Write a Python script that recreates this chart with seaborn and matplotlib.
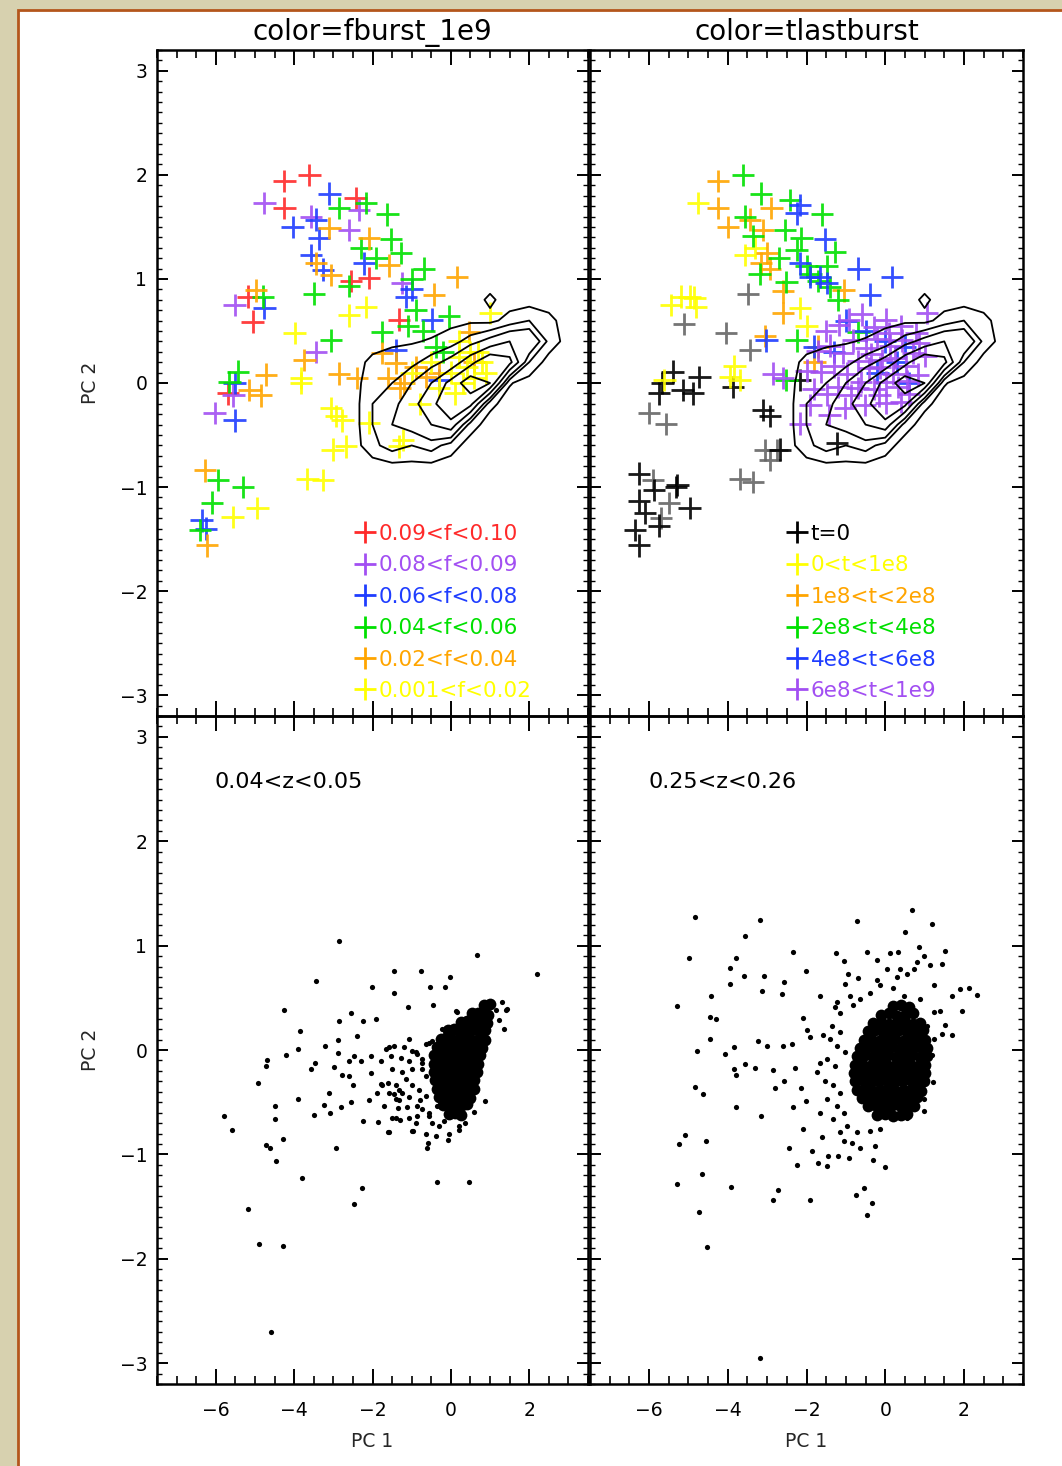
import numpy as np
import pandas as pd
import matplotlib
matplotlib.use("Agg")
import matplotlib.pyplot as plt
from matplotlib.lines import Line2D
from matplotlib.patches import Rectangle
from matplotlib.ticker import MultipleLocator
import seaborn as sns

sns.set_theme(style="white")
plt.rcParams["font.family"] = ["DejaVu Sans"]

W, H = 1062, 1466

# ---------------------------------------------------------------- data
# burst-fraction classes (top left), PC1/PC2 positions
fb_red = [(-4.25, 1.94), (-3.61, 2.00), (-4.25, 1.68), (-2.43, 1.78), (-5.18, 0.83),
          (-5.06, 0.59), (-2.09, 1.01), (-1.32, 0.61), (-5.69, -0.10), (-2.55, 0.98)]
fb_purple = [(-4.76, 1.73), (-3.57, 1.60), (-2.60, 1.47), (-2.34, 1.66), (-5.52, 0.75),
             (-1.24, 0.96), (-3.44, 0.30), (-6.03, -0.29), (-5.55, -0.12)]
fb_blue = [(-3.10, 1.82), (-4.04, 1.50), (-3.44, 1.57), (-3.36, 1.39), (-3.57, 1.23),
           (-3.27, 1.09), (-2.21, 1.15), (-1.15, 0.83), (-4.76, 0.72), (-5.52, 0.00),
           (-5.52, -0.36), (-0.31, 0.03), (-0.48, 0.61), (-1.41, 0.32), (-6.36, -1.32),
           (-6.25, -1.40), (-1.00, 0.90)]
fb_green = [(-2.17, 1.73), (-2.85, 1.68), (-1.62, 1.62), (-1.53, 1.38), (-1.28, 1.25),
            (-0.69, 1.10), (-3.49, 0.86), (-2.60, 0.93), (-4.80, 0.83), (-3.06, 0.41),
            (-0.90, 0.70), (-1.75, 0.49), (-0.05, 0.64), (-0.39, 0.35), (-5.44, 0.11),
            (-5.65, 0.01), (-5.95, -0.93), (-5.31, -1.00), (-6.10, -1.15), (-6.41, -1.41),
            (-1.90, 1.20), (-1.10, 0.55), (-0.70, 0.50), (-2.30, 1.30), (-1.00, 1.00),
            (-0.20, 0.30)]
fb_orange = [(-3.10, 1.49), (-2.09, 1.39), (-3.44, 1.15), (-3.06, 1.04), (-1.58, 1.13),
             (0.16, 1.02), (-0.43, 0.85), (-4.97, 0.89), (0.46, 0.49), (-4.72, 0.08),
             (-4.84, -0.12), (-5.14, -0.07), (-3.74, 0.22), (-2.85, 0.09), (-1.41, 0.19),
             (-1.75, 0.29), (-6.28, -0.84), (-0.64, 0.06), (-6.23, -1.56), (-1.20, 0.00),
             (-1.60, 0.05), (-0.90, 0.15), (-0.30, 0.10), (0.60, 0.20), (-2.40, 0.05),
             (-1.30, -0.05)]
fb_yellow = [(-2.60, 0.65), (-3.99, 0.48), (-3.82, 0.05), (-3.82, 0.00), (-3.06, -0.24),
             (-2.93, -0.32), (-2.77, -0.36), (-3.02, -0.64), (-2.68, -0.61), (-3.66, -0.92),
             (-3.27, -0.93), (-2.17, 0.73), (1.01, 0.67), (-2.09, -0.38), (-1.32, -0.61),
             (-5.57, -1.29), (-4.94, -1.20), (0.00, 0.10), (0.20, 0.25), (0.40, 0.15),
             (0.60, 0.05), (0.80, 0.20), (0.30, 0.00), (0.50, 0.30), (0.10, -0.10),
             (0.70, 0.30), (0.90, 0.10), (-0.30, -0.05), (0.20, 0.40), (-0.50, 0.20),
             (-1.00, 0.10), (-0.80, -0.20), (-1.22, -0.55)]

fb_labels = ["0.09<f<0.10", "0.08<f<0.09", "0.06<f<0.08",
             "0.04<f<0.06", "0.02<f<0.04", "0.001<f<0.02"]
fb_colors = ["#ff2a2a", "#a24ff2", "#1f3dff", "#00e000", "#ffa500", "#ffff00"]

# time-since-last-burst classes (top right)
tb_black = [(-5.40, 0.11), (-5.66, 0.00), (-5.74, -0.10), (-5.15, -0.07), (-4.89, -0.10),
            (-4.72, 0.06), (-3.87, -0.04), (-6.25, -0.87), (-5.31, -1.00), (-3.10, -0.26),
            (-2.93, -0.32), (-2.68, -0.64), (-2.17, 0.03), (-1.23, -0.58), (-6.25, -1.13),
            (-6.35, -1.41), (-6.25, -1.56), (-5.87, -1.03), (-5.28, -0.98), (-4.97, -1.20),
            (-5.74, -1.37), (-6.10, -1.25)]
tb_grey = [(-3.49, 0.86), (-5.10, 0.57), (-4.04, 0.48), (-3.44, 0.32), (-6.00, -0.29),
           (-5.57, -0.39), (-3.70, -0.92), (-3.36, -0.95), (-3.06, -0.64), (-2.93, -0.74),
           (-2.76, -0.64), (-5.91, -0.93), (-5.70, -1.30), (-5.50, -1.15)]
tb_yellow = [(-4.76, 1.73), (-3.57, 1.23), (-2.17, 0.72), (-5.44, 0.75), (-5.19, 0.83),
             (-4.97, 0.83), (-4.85, 0.82), (-4.80, 0.73), (-3.83, 0.16), (-3.95, 0.06),
             (-3.70, 0.03), (-5.61, 0.03), (-2.00, 0.55), (-3.30, 1.30)]
tb_orange = [(-4.25, 1.94), (-4.25, 1.68), (-4.00, 1.50), (-2.89, 1.68), (-3.44, 1.57),
             (-3.10, 1.47), (-3.15, 1.15), (-2.93, 1.10), (-2.59, 0.88), (-2.59, 0.67),
             (-3.06, 0.45), (-1.70, 0.35), (-1.06, 0.89), (-1.80, 0.20), (-3.00, 1.25)]
tb_green = [(-3.61, 2.00), (-3.15, 1.82), (-2.42, 1.76), (-1.61, 1.62), (-3.57, 1.60),
            (-3.36, 1.41), (-2.55, 1.47), (-2.13, 1.39), (-2.25, 1.28), (-1.28, 1.26),
            (-2.00, 1.12), (-1.49, 1.12), (-2.51, 0.97), (-1.90, 1.05), (-1.70, 0.98),
            (-1.40, 0.92), (-3.19, 1.05), (-0.68, 0.49), (-2.25, 0.41), (-2.51, 0.03),
            (-2.70, 1.20), (-1.20, 0.80)]
tb_blue = [(-2.17, 1.71), (-2.25, 1.63), (-1.53, 1.38), (-0.68, 1.10), (0.17, 1.02),
           (-0.38, 0.85), (-2.17, 1.15), (-1.91, 1.02), (-1.66, 1.02), (-1.49, 0.96),
           (-3.02, 0.41), (-1.00, 0.60), (-0.50, 0.50), (0.00, 0.40), (0.30, 0.20),
           (-0.20, 0.10), (0.60, 0.00), (-1.80, 0.35), (-1.30, 0.30), (0.50, 0.35)]
tb_purple = [(1.06, 0.67), (-2.85, 0.09), (-2.60, 0.05), (-2.17, -0.39), (-0.13, 0.15),
             (-1.50, 0.50), (-1.18, 0.56), (-0.92, 0.61), (-0.60, 0.66), (-0.28, 0.54),
             (0.02, 0.61), (0.41, 0.55), (0.79, 0.48), (-1.72, 0.31), (-1.41, 0.36),
             (-1.08, 0.29), (-0.81, 0.41), (-0.49, 0.34), (-0.22, 0.42), (0.12, 0.36),
             (0.43, 0.41), (0.71, 0.29), (1.02, 0.26), (-1.62, 0.11), (-1.31, 0.16),
             (-0.98, 0.09), (-0.69, 0.21), (-0.41, 0.14), (-0.08, 0.22), (0.21, 0.09),
             (0.52, 0.16), (0.83, 0.08), (-1.82, -0.06), (-1.49, -0.11), (-1.21, -0.04),
             (-0.88, -0.12), (-0.61, 0.01), (-0.29, -0.06), (0.01, 0.01), (0.32, -0.04),
             (0.61, -0.11), (-1.42, -0.31), (-1.02, -0.24), (-0.52, -0.21), (0.03, -0.19),
             (-2.00, 0.12), (-1.90, -0.21), (-0.35, 0.28), (0.25, 0.24), (0.55, 0.02),
             (-0.15, -0.12), (0.40, -0.18), (0.85, 0.38), (-0.70, -0.05), (0.10, 0.48)]

tb_labels = ["t=0", "0<t<1e8", "1e8<t<2e8", "2e8<t<4e8", "4e8<t<6e8", "6e8<t<1e9"]
tb_colors = ["#000000", "#ffff00", "#ffa500", "#00e000", "#1f3dff", "#a24ff2"]

# smoothed parent-sample density on a coarse PC1/PC2 grid (contoured in top panels)
grid_pc1 = [-2.5, -2.0, -1.5, -1.0, -0.5, 0.0, 0.5, 1.0, 1.5, 2.0, 2.5, 3.0]
grid_pc2 = [-1.0, -0.8, -0.6, -0.4, -0.2, 0.0, 0.2, 0.4, 0.6, 0.8, 1.0]
grid_density = [
    [0, 0,   0,   0,   0,   0,   0,   0,   0,   0,   0,   0],
    [0, 0,   0.2, 0.2, 0.2, 0,   0,   0,   0,   0,   0,   0],
    [0, 1.2, 2.0, 1.5, 2.0, 1.0, 0,   0,   0,   0,   0,   0],
    [0, 1.5, 2.5, 3.0, 4.0, 5.0, 1.0, 0,   0,   0,   0,   0],
    [0, 1.5, 2.0, 3.5, 5.0, 7.0, 6.0, 0.8, 0,   0,   0,   0],
    [0, 1.2, 1.5, 2.5, 4.0, 6.0, 8.0, 7.0, 0.6, 0,   0,   0],
    [0, 0.8, 1.0, 1.2, 2.0, 3.0, 5.0, 7.0, 6.0, 1.5, 0,   0],
    [0, 0,   0.3, 0.4, 0.6, 1.0, 2.0, 3.0, 4.0, 4.0, 1.2, 0],
    [0, 0,   0,   0,   0,   0.2, 0.3, 0.2, 0.9, 1.5, 0.8, 0],
    [0, 0,   0,   0,   0,   0,   0,   0.7, 0,   0,   0,   0],
    [0, 0,   0,   0,   0,   0,   0,   0,   0,   0,   0,   0],
]
density_levels = [0.5, 1.5, 2.5, 4.0, 5.5, 7.0]

# low-redshift sample (bottom left): scattered galaxies and the dense core
lowz_sparse = [
    (-2.85, 1.04), (0.67, 0.91), (2.20, 0.73), (-1.45, 0.76), (-0.76, 0.76), (-0.03, 0.70),
    (-3.43, 0.66), (-2.02, 0.60), (-0.54, 0.60), (-0.14, 0.60), (-1.45, 0.55), (-1.09, 0.41),
    (-0.46, 0.43), (0.14, 0.37), (-4.27, 0.38), (-2.55, 0.35), (-2.85, 0.28), (-2.23, 0.28),
    (-1.90, 0.30), (-3.84, 0.18), (-2.39, 0.13), (-2.87, 0.10), (-1.07, 0.11), (-3.21, 0.04),
    (-3.91, 0.01), (-4.22, -0.05), (-2.87, -0.03), (-4.70, -0.10), (-4.73, -0.15), (-3.47, -0.12),
    (-3.57, -0.18), (-2.98, -0.16), (-2.60, -0.11), (-2.30, -0.11), (-2.47, -0.06), (-2.04, -0.06),
    (-1.79, -0.11), (-2.79, -0.24), (-2.60, -0.25), (-2.03, -0.22), (-4.93, -0.32), (-2.49, -0.34),
    (-3.10, -0.41), (-3.91, -0.47), (-4.48, -0.54), (-3.24, -0.53), (-2.81, -0.55), (-2.54, -0.50),
    (-2.10, -0.48), (-3.08, -0.60), (-3.49, -0.62), (-5.78, -0.63), (-4.50, -0.66), (-5.58, -0.77),
    (-2.24, -0.68), (-1.86, -0.69), (-4.72, -0.91), (-4.61, -0.94), (-4.29, -0.85), (-2.93, -0.94),
    (-4.46, -1.06), (-3.81, -1.23), (-2.26, -1.32), (-0.36, -1.26), (0.46, -1.26), (-2.47, -1.48),
    (-5.18, -1.52), (-4.90, -1.86), (-4.29, -1.88), (-4.59, -2.70),
    (-1.58, 0.03), (-1.45, 0.04), (-1.20, 0.03), (-0.98, -0.01), (-0.86, -0.04), (-1.53, -0.06),
    (-1.28, -0.08), (-1.07, -0.11), (-0.73, -0.12), (-1.79, -0.33), (-1.60, -0.32), (-1.39, -0.34),
    (-1.15, -0.28), (-0.98, -0.34), (-1.88, -0.41), (-1.58, -0.41), (-1.45, -0.42), (-1.24, -0.41),
    (-1.32, -0.48), (-1.07, -0.45), (-0.80, -0.48), (-1.34, -0.56), (-1.11, -0.55), (-0.86, -0.54),
    (-1.49, -0.65), (-1.31, -0.67), (-1.07, -0.65), (-0.86, -0.63), (-1.60, -0.79), (-0.97, -0.78),
    (-0.64, -0.80), (-0.58, -0.89), (-0.60, -0.94), (-0.39, -0.82), (-0.07, -0.86), (-0.05, -0.80),
    (0.20, -0.77), (-0.64, 0.06), (-0.48, 0.09), (-0.22, 0.20), (-0.05, 0.19), (0.25, 0.26),
    (0.46, 0.23), (1.31, 0.46), (1.41, 0.38), (1.14, 0.38), (0.92, 0.37), (1.35, 0.20),
    (1.22, 0.29), (0.88, -0.49), (0.59, -0.59), (0.36, -0.70), (-0.18, -0.68), (-0.48, -0.70),
    (-0.73, -0.18), (-0.64, -0.25), (-0.81, -0.38), (-0.64, -0.44), (-0.56, -0.60), (-0.35, -0.54),
    (0.16, 0.36), (1.43, 0.39), (-1.66, 0.01), (-0.90, -0.02), (-0.56, 0.07), (-0.73, -0.09),
    (-1.49, -0.18), (-1.24, -0.21), (-0.98, -0.18), (-1.75, -0.34), (-1.32, -0.38), (-1.70, -0.54),
    (-1.41, -0.47), (-0.73, -0.57), (-1.41, -0.65), (-0.90, -0.70), (-0.56, -0.63), (-0.31, -0.73),
    (0.20, -0.73), (-1.58, -0.79), (-0.98, -0.78)]
lowz_core = [
    (0.85, 0.43), (1.00, 0.44),
    (0.55, 0.35), (0.70, 0.35), (0.84, 0.36), (0.96, 0.34),
    (0.25, 0.27), (0.40, 0.28), (0.55, 0.26), (0.70, 0.27), (0.84, 0.28), (0.92, 0.26),
    (-0.08, 0.19), (0.08, 0.20), (0.24, 0.18), (0.40, 0.19), (0.56, 0.20), (0.72, 0.18), (0.88, 0.19),
    (-0.26, 0.11), (-0.10, 0.12), (0.06, 0.10), (0.22, 0.11), (0.38, 0.12), (0.55, 0.10), (0.72, 0.11), (0.86, 0.10),
    (-0.36, 0.03), (-0.20, 0.04), (-0.04, 0.02), (0.12, 0.03), (0.28, 0.04), (0.45, 0.02), (0.62, 0.03), (0.80, 0.02),
    (-0.42, -0.05), (-0.26, -0.04), (-0.10, -0.06), (0.06, -0.05), (0.22, -0.04), (0.38, -0.06), (0.55, -0.05), (0.74, -0.05),
    (-0.44, -0.13), (-0.28, -0.12), (-0.12, -0.14), (0.04, -0.13), (0.20, -0.12), (0.36, -0.14), (0.52, -0.13), (0.70, -0.13),
    (-0.43, -0.21), (-0.27, -0.20), (-0.11, -0.22), (0.05, -0.21), (0.21, -0.20), (0.37, -0.22), (0.52, -0.21), (0.66, -0.21),
    (-0.40, -0.29), (-0.24, -0.28), (-0.08, -0.30), (0.08, -0.29), (0.24, -0.28), (0.40, -0.30), (0.60, -0.29),
    (-0.36, -0.37), (-0.20, -0.36), (-0.04, -0.38), (0.12, -0.37), (0.28, -0.36), (0.45, -0.38), (0.58, -0.37),
    (-0.30, -0.45), (-0.14, -0.44), (0.02, -0.46), (0.18, -0.45), (0.34, -0.44), (0.48, -0.46),
    (-0.20, -0.53), (-0.04, -0.52), (0.12, -0.54), (0.28, -0.53), (0.40, -0.52),
    (-0.05, -0.61), (0.10, -0.60), (0.25, -0.62)]

# intermediate-redshift sample (bottom right)
midz_sparse = [
    (-4.82, 1.27), (-3.19, 1.25), (-0.71, 1.24), (0.68, 1.34), (1.19, 1.21), (0.49, 1.13),
    (-3.57, 1.09), (-4.99, 0.88), (-3.80, 0.88), (-3.95, 0.79), (-2.34, 0.94), (-1.25, 0.93),
    (-1.06, 0.85), (-0.47, 0.94), (0.13, 0.93), (0.32, 0.94), (0.85, 0.99), (0.98, 0.90),
    (1.53, 0.95), (1.43, 0.82), (1.15, 0.81), (-3.59, 0.71), (-3.09, 0.71), (-2.02, 0.76),
    (-2.58, 0.65), (-3.94, 0.63), (-3.12, 0.57), (-2.61, 0.54), (-1.66, 0.52), (-4.42, 0.52),
    (-5.30, 0.42), (-1.02, 0.63), (-0.94, 0.73), (-0.68, 0.69), (-0.20, 0.86), (0.04, 0.78),
    (0.38, 0.78), (0.72, 0.78), (-0.21, 0.67), (1.70, 0.52), (1.91, 0.58), (2.13, 0.59),
    (2.32, 0.53), (1.96, 0.37), (1.40, 0.37), (1.51, 0.24), (1.70, 0.14), (1.45, 0.15),
    (-4.46, 0.32), (-4.31, 0.30), (-4.45, 0.11), (-4.79, -0.01), (-3.83, 0.03), (-4.06, -0.04),
    (-3.23, 0.09), (-3.00, 0.04), (-2.59, 0.04), (-2.38, 0.06), (-2.10, 0.31), (-2.00, 0.19),
    (-1.90, 0.12), (-1.59, 0.14), (-3.85, -0.18), (-3.56, -0.13), (-3.80, -0.24), (-3.31, -0.17),
    (-2.85, -0.19), (-2.30, -0.17), (-2.58, -0.30), (-2.81, -0.36), (-4.82, -0.35), (-4.64, -0.42),
    (-3.78, -0.55), (-3.15, -0.63), (-2.34, -0.55), (-2.13, -0.36), (-2.02, -0.49), (-1.66, -0.12),
    (-1.74, -0.21), (-5.08, -0.81), (-5.23, -0.90), (-4.55, -0.87), (-2.44, -0.94), (-1.85, -0.97),
    (-2.24, -1.10), (-2.08, -0.76), (-1.66, -0.60), (-1.61, -0.83), (-1.70, -1.08), (-1.45, -1.02),
    (-1.49, -1.11), (-1.19, -1.02), (-0.91, -1.03), (-0.32, -1.05), (0.00, -1.12), (-0.64, -0.94),
    (-0.26, -0.92), (-0.85, -0.89), (-1.06, -0.87), (-5.30, -1.28), (-4.65, -1.19), (-3.93, -1.31),
    (-2.72, -1.34), (-2.86, -1.44), (-1.91, -1.44), (-0.75, -1.39), (-0.54, -1.32), (-0.34, -1.47),
    (-0.47, -1.58), (-4.74, -1.55), (-4.52, -1.89), (-3.19, -2.95),
    (-1.28, 0.41), (-1.15, 0.35), (-1.36, 0.23), (-1.15, 0.17), (-1.40, 0.11), (-1.23, 0.04),
    (-1.02, -0.02), (-1.49, -0.09), (-1.28, -0.15), (-1.53, -0.30), (-1.32, -0.34), (-1.15, -0.41),
    (-1.49, -0.47), (-1.23, -0.54), (-1.06, -0.60), (-1.32, -0.66), (-0.98, -0.73), (-0.72, -0.79),
    (-0.38, -0.78), (-0.13, -0.76), (-1.15, -0.79), (-0.64, 0.49), (-0.38, 0.55), (-0.13, 0.62),
    (0.21, 0.59), (0.47, 0.52), (0.89, 0.49), (1.23, 0.36), (1.06, 0.23), (1.23, 0.11),
    (1.19, -0.05), (1.22, -0.31), (0.98, -0.47), (0.98, -0.58), (0.55, -0.65), (0.38, -0.65),
    (-0.81, 0.43), (-0.89, 0.52), (-1.23, 0.46), (0.30, 0.70), (0.55, 0.73), (0.81, 0.84),
    (1.23, 0.62)]
midz_core = [
    (0.20, 0.42), (0.40, 0.43), (0.60, 0.41),
    (-0.10, 0.34), (0.10, 0.35), (0.30, 0.33), (0.50, 0.34), (0.70, 0.35),
    (-0.30, 0.26), (-0.10, 0.27), (0.10, 0.25), (0.30, 0.26), (0.50, 0.27), (0.70, 0.25), (0.88, 0.26),
    (-0.45, 0.18), (-0.25, 0.19), (-0.05, 0.17), (0.15, 0.18), (0.35, 0.19), (0.55, 0.17), (0.75, 0.18), (0.95, 0.19),
    (-0.55, 0.10), (-0.35, 0.11), (-0.15, 0.09), (0.05, 0.10), (0.25, 0.11), (0.45, 0.09), (0.65, 0.10), (0.85, 0.11), (1.02, 0.10),
    (-0.65, 0.02), (-0.45, 0.03), (-0.25, 0.01), (-0.05, 0.02), (0.15, 0.03), (0.35, 0.01), (0.55, 0.02), (0.75, 0.03), (0.95, 0.01), (1.05, 0.02),
    (-0.72, -0.06), (-0.52, -0.05), (-0.32, -0.07), (-0.12, -0.06), (0.08, -0.05), (0.28, -0.07), (0.48, -0.06), (0.68, -0.05), (0.88, -0.07), (1.05, -0.06),
    (-0.78, -0.14), (-0.58, -0.13), (-0.38, -0.15), (-0.18, -0.14), (0.02, -0.13), (0.22, -0.15), (0.42, -0.14), (0.62, -0.13), (0.82, -0.15), (1.02, -0.14),
    (-0.80, -0.22), (-0.60, -0.21), (-0.40, -0.23), (-0.20, -0.22), (0.00, -0.21), (0.20, -0.23), (0.40, -0.22), (0.60, -0.21), (0.80, -0.23), (1.00, -0.22),
    (-0.78, -0.30), (-0.58, -0.29), (-0.38, -0.31), (-0.18, -0.30), (0.02, -0.29), (0.22, -0.31), (0.42, -0.30), (0.62, -0.29), (0.82, -0.31), (0.98, -0.30),
    (-0.72, -0.38), (-0.52, -0.37), (-0.32, -0.39), (-0.12, -0.38), (0.08, -0.37), (0.28, -0.39), (0.48, -0.38), (0.68, -0.37), (0.90, -0.39),
    (-0.60, -0.46), (-0.40, -0.45), (-0.20, -0.47), (0.00, -0.46), (0.20, -0.45), (0.40, -0.47), (0.60, -0.46), (0.80, -0.45),
    (-0.45, -0.54), (-0.25, -0.53), (-0.05, -0.55), (0.15, -0.54), (0.35, -0.53), (0.55, -0.55), (0.72, -0.54),
    (-0.20, -0.62), (0.00, -0.61), (0.20, -0.63), (0.40, -0.62), (0.55, -0.61)]

panel_titles = ["color=fburst_1e9", "color=tlastburst"]
z_labels = ["0.04<z<0.05", "0.25<z<0.26"]


def to_frame(groups, labels):
    rows = []
    for pts, lab in zip(groups, labels):
        for x, y in pts:
            rows.append({"PC1": x, "PC2": y, "cls": lab})
    return pd.DataFrame(rows)


# ---------------------------------------------------------------- figure
fig = plt.figure(figsize=(W / 100, H / 100), dpi=100, facecolor="#d7d1af")
fig.patches.append(Rectangle((18 / W, -0.05), 1.2, 1 - 10 / H + 0.05,
                             transform=fig.transFigure, facecolor="white",
                             edgecolor="#b4561c", linewidth=2.0, zorder=-10))


def box(x0, y0, x1, y1):
    return [x0 / W, 1 - y1 / H, (x1 - x0) / W, (y1 - y0) / H]


ax_tl = fig.add_axes(box(157, 50, 588, 716))
ax_tr = fig.add_axes(box(590, 50, 1023, 716))
ax_bl = fig.add_axes(box(157, 716, 588, 1384))
ax_br = fig.add_axes(box(590, 716, 1023, 1384))

TICK_FS = 13.5


def style(ax, show_x, show_y):
    ax.set_facecolor("none")
    ax.set_xlim(-7.5, 3.5)
    ax.set_ylim(-3.2, 3.2)
    ax.xaxis.set_major_locator(MultipleLocator(2))
    ax.xaxis.set_minor_locator(MultipleLocator(0.5))
    ax.yaxis.set_major_locator(MultipleLocator(1))
    ax.yaxis.set_minor_locator(MultipleLocator(0.1))
    ax.tick_params(which="both", direction="in", top=True, right=True,
                   bottom=True, left=True, colors="black")
    ax.tick_params(axis="x", which="major", length=11, width=1.4, pad=12)
    ax.tick_params(axis="x", which="minor", length=6, width=1.2)
    ax.tick_params(axis="y", which="major", length=8, width=1.4, pad=7)
    ax.tick_params(axis="y", which="minor", length=3.5, width=1.0)
    ax.tick_params(labelsize=TICK_FS, labelbottom=show_x, labelleft=show_y)
    for sp in ax.spines.values():
        sp.set_visible(True)
        sp.set_color("black")
        sp.set_linewidth(1.8)
    ax.set_xlabel("PC 1" if show_x else "", fontsize=TICK_FS, labelpad=9)
    ax.set_ylabel("PC 2" if show_y else "", fontsize=TICK_FS, labelpad=14)


def crosses(ax, groups, labels, colors):
    df = to_frame(groups, labels)
    sns.scatterplot(data=df, x="PC1", y="PC2", hue="cls", hue_order=labels,
                    palette=dict(zip(labels, colors)), marker="+", s=260,
                    linewidth=2.0, alpha=0.9, legend=False, ax=ax, zorder=3)
    ax.contour(grid_pc1, grid_pc2, np.array(grid_density), levels=density_levels,
               colors="black", linewidths=1.3, zorder=4)
    handles = [Line2D([], [], marker="+", linestyle="", color=c, markersize=16,
                      markeredgewidth=2.0) for c in colors]
    return handles


fb_groups = [fb_red, fb_purple, fb_blue, fb_green, fb_orange, fb_yellow]
tb_groups = [tb_black, tb_yellow, tb_orange, tb_green, tb_blue, tb_purple]

h_fb = crosses(ax_tl, fb_groups, fb_labels, fb_colors)
# the t=0 class is shown in black and dark grey
df_grey = to_frame([tb_grey], ["t=0 (grey)"])
sns.scatterplot(data=df_grey, x="PC1", y="PC2", color="#666666", marker="+", s=260,
                linewidth=2.0, alpha=0.9, legend=False, ax=ax_tr, zorder=3)
h_tb = crosses(ax_tr, tb_groups, tb_labels, tb_colors)

LEG_FS = 15.5
ax_tl.legend(h_fb, fb_labels, labelcolor=fb_colors, loc="lower left",
             bbox_to_anchor=((355 - 157) / 431, (716 - 701) / 666),
             frameon=False, fontsize=LEG_FS, handlelength=0.95, handletextpad=0.14,
             labelspacing=0.53, borderpad=0, borderaxespad=0)
ax_tr.legend(h_tb, tb_labels, labelcolor=tb_colors, loc="lower left",
             bbox_to_anchor=((787 - 590) / 433, (716 - 701) / 666),
             frameon=False, fontsize=LEG_FS, handlelength=0.95, handletextpad=0.14,
             labelspacing=0.53, borderpad=0, borderaxespad=0)

for ax, sparse, core, lab in [(ax_bl, lowz_sparse, lowz_core, z_labels[0]),
                              (ax_br, midz_sparse, midz_core, z_labels[1])]:
    sdf = pd.DataFrame(sparse, columns=["PC1", "PC2"])
    cdf = pd.DataFrame(core, columns=["PC1", "PC2"])
    sns.scatterplot(data=sdf, x="PC1", y="PC2", color="black", marker="o", s=14,
                    linewidth=0, legend=False, ax=ax, zorder=3)
    sns.scatterplot(data=cdf, x="PC1", y="PC2", color="black", marker="o", s=72,
                    linewidth=0, legend=False, ax=ax, zorder=3)
    ax.text(0.134, 0.901, lab, transform=ax.transAxes, fontsize=16,
            color="black", ha="left", va="center")

style(ax_tl, False, True)
style(ax_tr, False, False)
style(ax_bl, True, True)
style(ax_br, True, False)

ax_tl.set_title(panel_titles[0], fontsize=20, pad=7, color="black")
ax_tr.set_title(panel_titles[1], fontsize=20, pad=7, color="black")

fig.savefig("out.png", dpi=100, facecolor=fig.get_facecolor())
